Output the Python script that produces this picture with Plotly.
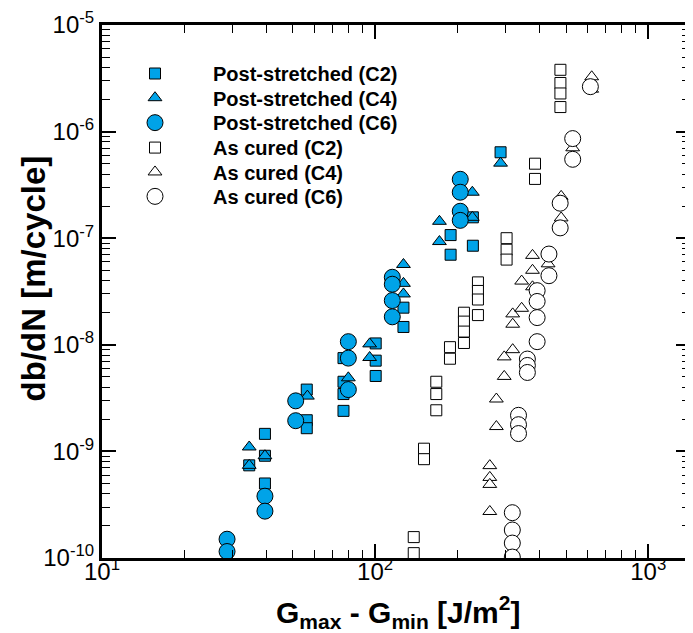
import plotly.graph_objects as go

# Post-stretched specimens (filled markers)
ps_c2_x = [34.6, 39.5, 39.5, 39.5, 56.2, 56.2, 56.2, 76.6, 76.6, 76.6, 76.6,
           100.5, 100.5, 100.5, 127, 127, 189, 189, 228, 228, 288]
ps_c2_y = [7.4e-10, 1.46e-9, 9.1e-10, 5.0e-10, 3.8e-9, 1.96e-9, 1.65e-9, 7.5e-9, 4.5e-9, 3.45e-9, 2.4e-9,
           1.03e-8, 7.1e-9, 5.1e-9, 2.23e-8, 1.47e-8, 1.07e-7, 7.0e-8, 1.57e-7, 8.5e-8, 6.4e-7]

ps_c4_x = [34.6, 34.6, 39.5, 56.5, 79.8, 95.5, 95.5, 127, 127, 127, 172, 172, 227, 227, 288]
ps_c4_y = [1.1e-9, 7.4e-10, 9.1e-10, 3.3e-9, 4.9e-9, 1.02e-8, 7.6e-9, 5.67e-8, 3.77e-8, 3.0e-8,
           1.44e-7, 9.3e-8, 2.7e-7, 1.57e-7, 5.06e-7]

ps_c6_x = [28.7, 28.7, 39.5, 39.5, 51.2, 51.2, 79.8, 79.8, 79.8, 115.6, 115.6, 115.6, 115.6,
           205, 205, 205, 205]
ps_c6_y = [1.5e-10, 1.15e-10, 3.8e-10, 2.75e-10, 2.98e-9, 1.94e-9, 1.07e-8, 7.5e-9, 3.8e-9,
           4.3e-8, 3.7e-8, 2.6e-8, 1.83e-8, 3.57e-7, 2.7e-7, 1.79e-7, 1.47e-7]

# As cured specimens (open markers)
ac_c2_x = [138.5, 138.5, 151, 151, 167.5, 167.5, 167.5, 188, 188, 211.5, 211.5, 211.5, 211.5,
           238, 238, 238, 238, 303, 303, 303, 385, 385, 477, 477, 477, 477]
ac_c2_y = [1.57e-10, 1.11e-10, 1.06e-9, 8.45e-10, 4.5e-9, 3.45e-9, 2.43e-9, 9.5e-9, 7.4e-9,
           2.0e-8, 1.65e-8, 1.33e-8, 1.04e-8, 3.85e-8, 3.2e-8, 2.66e-8, 1.9e-8,
           1.0e-7, 7.8e-8, 6.3e-8, 5.0e-7, 3.6e-7, 3.8e-6, 2.86e-6, 2.28e-6, 1.7e-6]

ac_c4_x = [263, 263, 263, 263, 278, 278, 297, 297, 319, 319, 319, 344, 344, 377, 377, 377,
           430, 480, 480, 529, 621, 621]
ac_c4_y = [7.35e-10, 5.7e-10, 4.9e-10, 2.73e-10, 3.1e-9, 1.71e-9, 7.7e-9, 5.05e-9, 1.95e-8, 1.56e-8, 9.0e-9,
           3.96e-8, 2.2e-8, 6.9e-8, 5.0e-8, 3.5e-8, 5.75e-8, 2.47e-7, 1.55e-7, 7.05e-7, 3.27e-6, 2.5e-6]

ac_c6_x = [318, 318, 318, 318, 335, 335, 335, 361, 361, 361, 392, 392, 392, 392, 433, 433,
           476, 476, 529, 529, 614]
ac_c6_y = [2.66e-10, 1.83e-10, 1.38e-10, 1.02e-10, 2.18e-9, 1.78e-9, 1.47e-9, 7.35e-9, 6.4e-9, 5.5e-9,
           3.22e-8, 2.55e-8, 1.8e-8, 1.07e-8, 7.1e-8, 4.45e-8, 2.13e-7, 1.25e-7, 8.6e-7, 5.5e-7, 2.64e-6]

x_ticks = [10, 100, 1000]
x_ticktext = ['10<sup>1</sup>', '10<sup>2</sup>', '10<sup>3</sup>']
y_ticks = [1e-10, 1e-9, 1e-8, 1e-7, 1e-6, 1e-5]
y_ticktext = ['10<sup>-10</sup>', '10<sup>-9</sup>', '10<sup>-8</sup>',
              '10<sup>-7</sup>', '10<sup>-6</sup>', '10<sup>-5</sup>']

FONT = 'Arial, Liberation Sans, sans-serif'
BLUE = '#00A3E8'

series = [
    ('Post-stretched (C2)', ps_c2_x, ps_c2_y, 'square', 11, BLUE),
    ('Post-stretched (C4)', ps_c4_x, ps_c4_y, 'triangle-up', 12, BLUE),
    ('Post-stretched (C6)', ps_c6_x, ps_c6_y, 'circle', 16, BLUE),
    ('As cured (C2)', ac_c2_x, ac_c2_y, 'square', 11, 'white'),
    ('As cured (C4)', ac_c4_x, ac_c4_y, 'triangle-up', 12, 'white'),
    ('As cured (C6)', ac_c6_x, ac_c6_y, 'circle', 16, 'white'),
]
# one legend per row so the row spacing can follow the original
legend_rows = [0.909, 0.8636, 0.8168, 0.770, 0.7243, 0.6785]

fig = go.Figure()
legends = {}
for i, (name, xs, ys, sym, size, col) in enumerate(series):
    key = 'legend' if i == 0 else 'legend%d' % (i + 1)
    fig.add_trace(go.Scatter(
        x=xs, y=ys, mode='markers', name='<b>%s</b>' % name, legend=key,
        marker=dict(symbol=sym, size=size, color=col,
                    line=dict(color='black', width=1)),
    ))
    legends[key] = dict(x=-0.0085, y=legend_rows[i], xanchor='left', yanchor='middle',
                        itemwidth=106, bgcolor='rgba(0,0,0,0)', borderwidth=0,
                        font=dict(family=FONT, size=20, color='black'))

axis_common = dict(
    type='log',
    showline=True, linecolor='black', linewidth=3,
    mirror='allticks',
    ticks='inside', ticklen=14, tickwidth=2, tickcolor='black',
    showgrid=False, zeroline=False,
    ticklabeloverflow='allow',
    tickfont=dict(family=FONT, size=24, color='black'),
    minor=dict(dtick='D1', ticks='inside', ticklen=8, tickwidth=1, tickcolor='black', showgrid=False),
)

fig.update_layout(
    width=685, height=625,
    margin=dict(l=94, r=0, t=15, b=75),
    plot_bgcolor='white', paper_bgcolor='white',
    xaxis=dict(axis_common, range=[1, 3.153], tickmode='array',
               tickvals=x_ticks, ticktext=x_ticktext, ticklabelstandoff=-10),
    yaxis=dict(axis_common, range=[-10.0002, -4.9998], tickmode='array',
               tickvals=y_ticks, ticktext=y_ticktext),
    showlegend=True,
    annotations=[
        dict(text='<b>G<sub>max</sub> - G<sub>min</sub> [J/m<sup>2</sup>]</b>',
             xref='paper', yref='paper', x=0.504, y=-0.101,
             xanchor='center', yanchor='middle', showarrow=False,
             font=dict(family=FONT, size=30, color='black')),
        dict(text='<b>db/dN [m/cycle]</b>', textangle=-90,
             xref='paper', yref='paper', x=-0.117, y=0.525,
             xanchor='center', yanchor='middle', showarrow=False,
             font=dict(family=FONT, size=33, color='black')),
    ],
    **legends,
)

fig.write_html("out.html")
